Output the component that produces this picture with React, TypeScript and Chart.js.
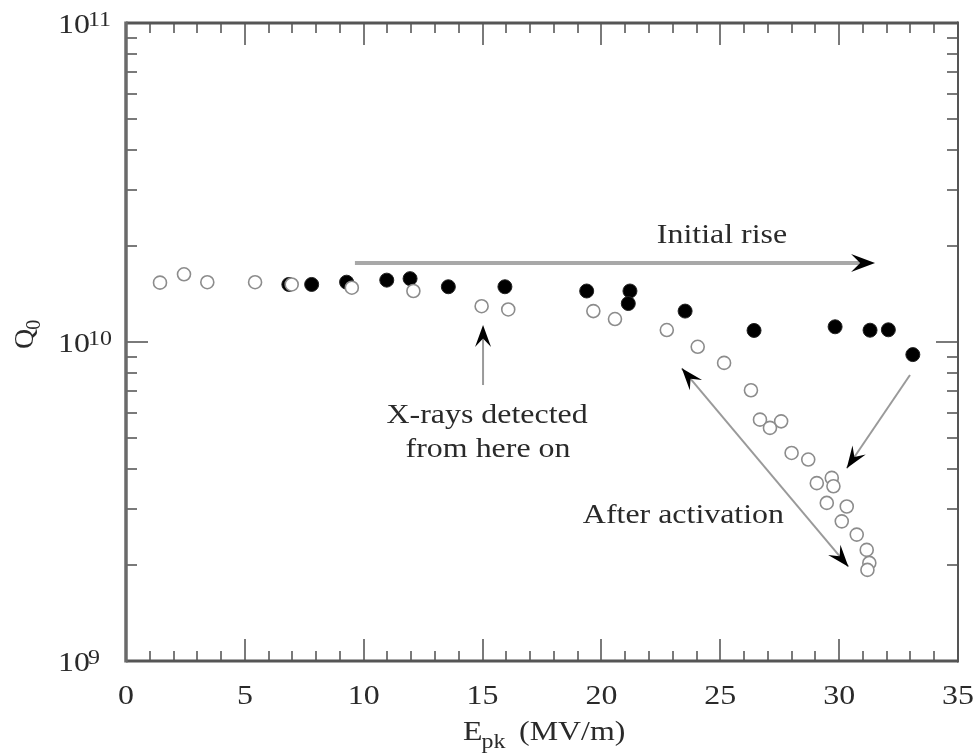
import React, { useEffect, useRef } from "react";
import { Chart, registerables } from "chart.js";
Chart.register(...registerables);

// ---- data (E_pk in MV/m, Q0) ----
const xTickValues = [0, 5, 10, 15, 20, 25, 30, 35];
const yDecadeExponents = [9, 10, 11];

const openE = [1.43, 2.44, 3.42, 5.43, 6.97, 9.5, 12.09, 14.96, 16.08, 19.66, 20.57, 22.75, 24.05, 25.16, 26.29, 26.67, 27.09, 27.56, 28.0, 28.7, 29.06, 29.69, 29.76, 29.48, 30.32, 30.11, 30.74, 31.16, 31.27, 31.19];
const openQ = [1.535e10, 1.63e10, 1.54e10, 1.54e10, 1.515e10, 1.48e10, 1.445e10, 1.295e10, 1.265e10, 1.25e10, 1.18e10, 1.09e10, 9.66e9, 8.6e9, 7.06e9, 5.71e9, 5.38e9, 5.64e9, 4.49e9, 4.28e9, 3.61e9, 3.75e9, 3.53e9, 3.13e9, 3.05e9, 2.74e9, 2.49e9, 2.23e9, 2.03e9, 1.93e9];

const blackE = [6.85, 7.81, 9.28, 10.97, 11.95, 13.56, 15.94, 19.38, 21.2, 21.13, 23.52, 26.42, 29.83, 31.3, 32.07, 33.1];
const blackQ = [1.515e10, 1.515e10, 1.54e10, 1.563e10, 1.58e10, 1.49e10, 1.49e10, 1.445e10, 1.445e10, 1.32e10, 1.25e10, 1.087e10, 1.116e10, 1.089e10, 1.092e10, 9.13e9];

// annotation anchors in data coordinates [E, Q]
const initialRiseArrow = [[9.63, 1.77e10], [31.51, 1.77e10]];
const initialRiseText = [25.07, 2.043e10];
const xrayArrow = [[15.02, 7.33e9], [15.02, 1.131e10]];
const xrayText1 = [15.19, 5.57e9];
const xrayText2 = [15.23, 4.36e9];
const activationArrow = [[23.38, 8.27e9], [30.39, 1.975e9]];
const blackArrow = [[32.98, 7.88e9], [30.32, 4.02e9]];
const activationText = [23.45, 2.71e9];

const SERIF = '"Liberation Serif", "DejaVu Serif", "Times New Roman", serif';
const SX = 1.14;
const TEXT = "#2a2a2a";

function txt(ctx: CanvasRenderingContext2D, s: string, x: number, y: number, size: number, align: string = "left") {
  ctx.save();
  ctx.font = `${size}px ${SERIF}`;
  ctx.textBaseline = "alphabetic";
  ctx.textAlign = "left";
  const w = ctx.measureText(s).width * SX;
  let x0 = x;
  if (align === "center") x0 = x - w / 2;
  else if (align === "right") x0 = x - w;
  ctx.translate(x0, y);
  ctx.scale(SX, 1);
  ctx.fillStyle = TEXT;
  ctx.fillText(s, 0, 0);
  ctx.restore();
  return w;
}

function arrowHead(ctx: CanvasRenderingContext2D, tx: number, ty: number, fx: number, fy: number, L = 22, W = 8) {
  const dx = tx - fx, dy = ty - fy;
  const len = Math.hypot(dx, dy);
  const ux = dx / len, uy = dy / len;
  const nx = -uy, ny = ux;
  ctx.beginPath();
  ctx.moveTo(tx, ty);
  ctx.lineTo(tx - L * ux + W * nx, ty - L * uy + W * ny);
  ctx.lineTo(tx - 0.62 * L * ux, ty - 0.62 * L * uy);
  ctx.lineTo(tx - L * ux - W * nx, ty - L * uy - W * ny);
  ctx.closePath();
  ctx.fillStyle = "#000";
  ctx.fill();
}

const framePlugin = {
  id: "frameTicks",
  beforeDatasetsDraw(chart: any) {
    const ctx: CanvasRenderingContext2D = chart.ctx;
    const a = chart.chartArea;
    const xs = chart.scales.x, ys = chart.scales.y;
    ctx.save();
    // ticks
    ctx.strokeStyle = "#7a7a7a";
    ctx.lineWidth = 2;
    ctx.beginPath();
    for (let i = 1; i < 35; i++) {
      const px = Math.round(xs.getPixelForValue(i)) + 0.0;
      const len = i % 5 === 0 ? 22 : 10;
      ctx.moveTo(px, a.bottom);
      ctx.lineTo(px, a.bottom - len);
      ctx.moveTo(px, a.top);
      ctx.lineTo(px, a.top + len);
    }
    for (let d = 9; d <= 10; d++) {
      for (let m = 1; m <= 9; m++) {
        if (d === 9 && m === 1) continue;
        const v = m * Math.pow(10, d);
        const py = Math.round(ys.getPixelForValue(v));
        const len = m === 1 ? 22 : 11;
        ctx.moveTo(a.left, py);
        ctx.lineTo(a.left + len, py);
        ctx.moveTo(a.right, py);
        ctx.lineTo(a.right - len, py);
      }
    }
    ctx.stroke();
    // frame
    ctx.lineWidth = 3;
    ctx.strokeStyle = "#555";
    ctx.beginPath();
    ctx.moveTo(a.left, a.top);
    ctx.lineTo(a.right, a.top);
    ctx.moveTo(a.left, a.bottom);
    ctx.lineTo(a.right, a.bottom);
    ctx.stroke();
    ctx.strokeStyle = "#6a6a6a";
    ctx.lineWidth = 3.5;
    ctx.beginPath();
    ctx.moveTo(a.left, a.top - 1.5);
    ctx.lineTo(a.left, a.bottom + 1.5);
    ctx.stroke();
    ctx.strokeStyle = "#555";
    ctx.lineWidth = 2;
    ctx.beginPath();
    ctx.moveTo(a.right, a.top - 1.5);
    ctx.lineTo(a.right, a.bottom + 1.5);
    ctx.stroke();

    // x tick labels
    for (const v of xTickValues) {
      txt(ctx, String(v), xs.getPixelForValue(v), a.bottom + 43, 28, "center");
    }
    // y tick labels 10^n
    for (const e of yDecadeExponents) {
      const py = ys.getPixelForValue(Math.pow(10, e));
      const w = txt(ctx, "10", 58, py + 10, 28, "left");
      txt(ctx, String(e), 58 + w - 2, py + 3, 21, "left");
    }
    // axis titles
    const ex = 463, ey = 740;
    const w1 = txt(ctx, "E", ex, ey, 28, "left");
    txt(ctx, "pk", ex + w1 - 1, ey + 8, 21, "left");
    txt(ctx, "(MV/m)", 519, ey, 28, "left");

    ctx.save();
    ctx.translate(33, 349);
    ctx.rotate(-Math.PI / 2);
    ctx.font = `28px ${SERIF}`;
    ctx.fillStyle = TEXT;
    ctx.textAlign = "left";
    ctx.fillText("Q", 0, 0);
    const qw = ctx.measureText("Q").width;
    ctx.font = `20px ${SERIF}`;
    ctx.fillText("0", qw - 1, 7);
    ctx.restore();
    ctx.restore();
  },
  afterDatasetsDraw(chart: any) {
    const ctx: CanvasRenderingContext2D = chart.ctx;
    const xs = chart.scales.x, ys = chart.scales.y;
    const P = (p: number[]) => [xs.getPixelForValue(p[0]), ys.getPixelForValue(p[1])];
    ctx.save();
    // Initial rise
    {
      const [x0, y0] = P(initialRiseArrow[0]);
      const [x1, y1] = P(initialRiseArrow[1]);
      ctx.strokeStyle = "#a8a8a8";
      ctx.lineWidth = 4;
      ctx.beginPath();
      ctx.moveTo(x0, y0);
      ctx.lineTo(x1 - 12, y1);
      ctx.stroke();
      arrowHead(ctx, x1, y1, x0, y0, 24, 9);
      const [tx, ty] = P(initialRiseText);
      txt(ctx, "Initial rise", tx, ty, 28, "center");
    }
    // X-rays
    {
      const [x0, y0] = P(xrayArrow[0]);
      const [x1, y1] = P(xrayArrow[1]);
      ctx.strokeStyle = "#9a9a9a";
      ctx.lineWidth = 2;
      ctx.beginPath();
      ctx.moveTo(x0, y0);
      ctx.lineTo(x1, y1 + 10);
      ctx.stroke();
      arrowHead(ctx, x1, y1, x0, y0, 22, 8);
      const [t1x, t1y] = P(xrayText1);
      txt(ctx, "X-rays detected", t1x, t1y, 28, "center");
      const [t2x, t2y] = P(xrayText2);
      txt(ctx, "from here on", t2x, t2y, 28, "center");
    }
    // After activation double arrow
    {
      const [x0, y0] = P(activationArrow[0]);
      const [x1, y1] = P(activationArrow[1]);
      ctx.strokeStyle = "#9a9a9a";
      ctx.lineWidth = 2;
      ctx.beginPath();
      ctx.moveTo(x0, y0);
      ctx.lineTo(x1, y1);
      ctx.stroke();
      arrowHead(ctx, x0, y0, x1, y1, 22, 8);
      arrowHead(ctx, x1, y1, x0, y0, 22, 8);
      const [tx, ty] = P(activationText);
      txt(ctx, "After activation", tx, ty, 28, "center");
    }
    // arrow from last black point
    {
      const [x0, y0] = P(blackArrow[0]);
      const [x1, y1] = P(blackArrow[1]);
      ctx.strokeStyle = "#9a9a9a";
      ctx.lineWidth = 2;
      ctx.beginPath();
      ctx.moveTo(x0, y0);
      ctx.lineTo(x1, y1);
      ctx.stroke();
      arrowHead(ctx, x1, y1, x0, y0, 22, 8);
    }
    ctx.restore();
  },
};

export default function App() {
  const ref = useRef<HTMLCanvasElement>(null);
  useEffect(() => {
    if (!ref.current) return;
    const openPts = openE.map((e, i) => ({ x: e, y: openQ[i] }));
    const blackPts = blackE.map((e, i) => ({ x: e, y: blackQ[i] }));
    const chart = new Chart(ref.current, {
      type: "scatter",
      data: {
        datasets: [
          {
            label: "After activation",
            data: openPts,
            pointRadius: 6.5,
            pointBorderWidth: 1.6,
            borderColor: "#8c8c8c",
            backgroundColor: "#ffffff",
            pointBackgroundColor: "#ffffff",
            pointBorderColor: "#8c8c8c",
          },
          {
            label: "Initial rise",
            data: blackPts,
            pointRadius: 7,
            pointBorderWidth: 1,
            borderColor: "#111",
            backgroundColor: "#000",
            pointBackgroundColor: "#000",
            pointBorderColor: "#222",
          },
        ],
      },
      options: {
        animation: false,
        responsive: false,
        maintainAspectRatio: false,
        layout: { padding: { left: 126, right: 17, top: 23, bottom: 92 } },
        plugins: { legend: { display: false }, tooltip: { enabled: false } },
        scales: {
          x: { type: "linear", min: 0, max: 35, display: false },
          y: { type: "logarithmic", min: 1e9, max: 1e11, display: false },
        },
      },
      plugins: [framePlugin],
    });
    return () => chart.destroy();
  }, []);
  return (
    <div style={{ position: "absolute", left: 0, top: 0, width: 975, height: 753, background: "#fff" }}>
      <canvas ref={ref} width={975} height={753} style={{ width: 975, height: 753, display: "block" }} />
    </div>
  );
}
